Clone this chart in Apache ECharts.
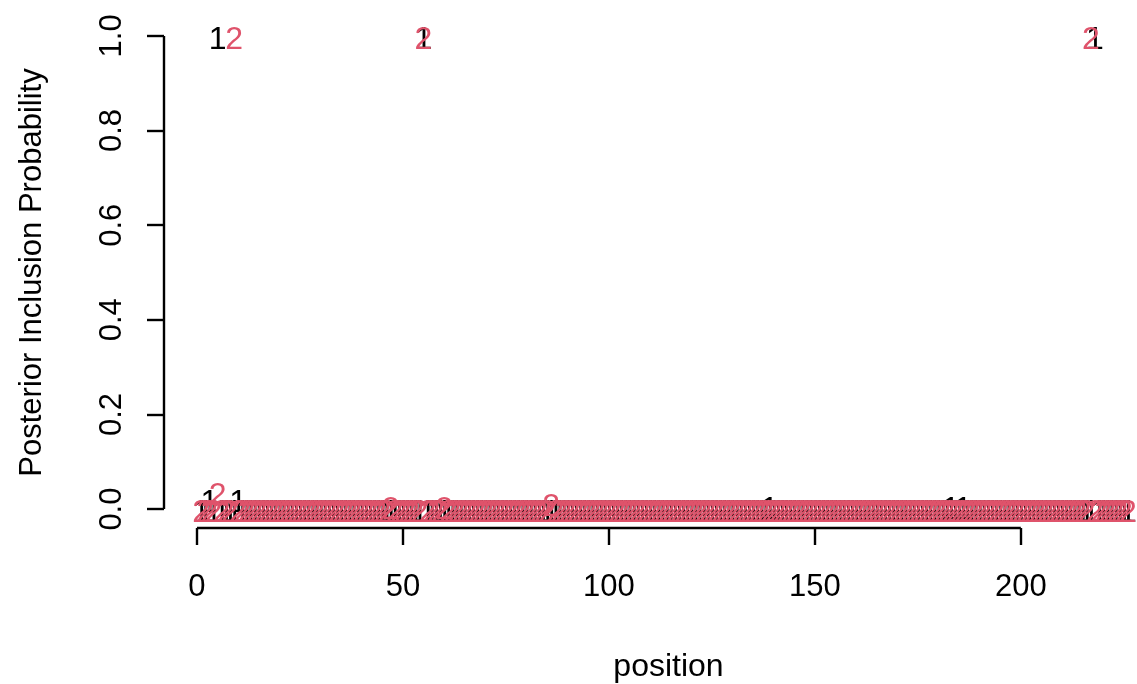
<!DOCTYPE html>
<html>
<head>
<meta charset="utf-8">
<title>Posterior Inclusion Probability</title>
<script src="https://cdn.jsdelivr.net/npm/echarts@6/dist/echarts.min.js"></script>
<style>
  html, body { margin: 0; padding: 0; background: #ffffff; }
  #chart { width: 1137px; height: 684px; }
</style>
</head>
<body>
<div id="chart"></div>
<script>
// Posterior inclusion probability per position, positions 1..226.
// Series "1" (black) and series "2" (red) are drawn as their own digit.
const pip1 = [
  0, 0, 0.02, 0, 1, 0, 0, 0, 0, 0.02,
  0, 0, 0, 0, 0, 0, 0, 0, 0, 0,
  0, 0, 0, 0, 0, 0, 0, 0, 0, 0,
  0, 0, 0, 0, 0, 0, 0, 0, 0, 0,
  0, 0, 0, 0, 0, 0, 0, 0, 0, 0,
  0, 0, 0, 0, 1, 0, 0, 0, 0, 0,
  0, 0, 0, 0, 0, 0, 0, 0, 0, 0,
  0, 0, 0, 0, 0, 0, 0, 0, 0, 0,
  0, 0, 0, 0, 0, 0, 0, 0, 0, 0,
  0, 0, 0, 0, 0, 0, 0, 0, 0, 0,
  0, 0, 0, 0, 0, 0, 0, 0, 0, 0,
  0, 0, 0, 0, 0, 0, 0, 0, 0, 0,
  0, 0, 0, 0, 0, 0, 0, 0, 0, 0,
  0, 0, 0, 0, 0, 0, 0, 0, 0.006, 0,
  0, 0, 0, 0, 0, 0, 0, 0, 0, 0,
  0, 0, 0, 0, 0, 0, 0, 0, 0, 0,
  0, 0, 0, 0, 0, 0, 0, 0, 0, 0,
  0, 0, 0, 0, 0, 0, 0, 0, 0, 0,
  0, 0, 0.006, 0, 0, 0.006, 0, 0, 0, 0,
  0, 0, 0, 0, 0, 0, 0, 0, 0, 0,
  0, 0, 0, 0, 0, 0, 0, 0, 0, 0,
  0, 0, 0, 0, 0, 0, 0, 1, 0, 0,
  0, 0, 0, 0, 0, 0
];

const pip2 = [
  0, 0, 0, 0, 0.035, 0, 0, 0, 1, 0,
  0, 0, 0, 0, 0, 0, 0, 0, 0, 0,
  0, 0, 0, 0, 0, 0, 0, 0, 0, 0,
  0, 0, 0, 0, 0, 0, 0, 0, 0, 0,
  0, 0, 0, 0, 0, 0, 0.007, 0, 0, 0,
  0, 0, 0, 0, 1, 0, 0, 0, 0, 0.007,
  0, 0, 0, 0, 0, 0, 0, 0, 0, 0,
  0, 0, 0, 0, 0, 0, 0, 0, 0, 0,
  0, 0, 0, 0, 0, 0.013, 0, 0, 0, 0,
  0, 0, 0, 0, 0, 0, 0, 0, 0, 0,
  0, 0, 0, 0, 0, 0, 0, 0, 0, 0,
  0, 0, 0, 0, 0, 0, 0, 0, 0, 0,
  0, 0, 0, 0, 0, 0, 0, 0, 0, 0,
  0, 0, 0, 0, 0, 0, 0, 0, 0, 0,
  0, 0, 0, 0, 0, 0, 0, 0, 0, 0,
  0, 0, 0, 0, 0, 0, 0, 0, 0, 0,
  0, 0, 0, 0, 0, 0, 0, 0, 0, 0,
  0, 0, 0, 0, 0, 0, 0, 0, 0, 0,
  0, 0, 0, 0, 0, 0, 0, 0, 0, 0,
  0, 0, 0, 0, 0, 0, 0, 0, 0, 0,
  0, 0, 0, 0, 0, 0, 0, 0, 0, 0,
  0, 0, 0, 0, 0, 0, 1, 0, 0, 0,
  0, 0, 0, 0, 0, 0
];

const seriesLabels = ['1', '2'];
const seriesColors = ['#000000', '#DF536B'];

const xTicks = [0, 50, 100, 150, 200];
const yTicks = [0, 0.2, 0.4, 0.6, 0.8, 1.0];

// Plot limits extend the data range by 4% on each side.
const xLimits = [-8, 235];
const yLimits = [-0.04, 1.04];

const FONT_FAMILY = '"Liberation Sans", Arial, Helvetica, sans-serif';
const FONT_SIZE = 31;

function toPoints(values) {
  return values.map((v, i) => [i + 1, v]);
}

function digitSeries(name, values, label, color) {
  return {
    name: name,
    type: 'custom',
    clip: false,
    silent: true,
    data: toPoints(values),
    renderItem: function (params, api) {
      const pt = api.coord([api.value(0), api.value(1)]);
      return {
        type: 'text',
        x: pt[0],
        y: pt[1] + 4,
        style: {
          text: label,
          fill: color,
          font: '32px ' + FONT_FAMILY,
          align: 'center',
          verticalAlign: 'middle'
        }
      };
    }
  };
}

// Axis lines span only the tick range, drawn as plain segments.
function axisSegment(points) {
  return {
    type: 'line',
    silent: true,
    clip: false,
    symbol: 'none',
    data: points,
    lineStyle: { color: '#000000', width: 2.4 },
    z: 1
  };
}

const chart = echarts.init(document.getElementById('chart'), null, { renderer: 'canvas' });

chart.setOption({
  animation: false,
  backgroundColor: '#ffffff',
  textStyle: { fontFamily: FONT_FAMILY },
  grid: {
    left: 164,
    right: -28,
    top: 17,
    bottom: 156,
    containLabel: false,
    outerBoundsMode: 'none'
  },
  xAxis: {
    type: 'value',
    min: xLimits[0],
    max: xLimits[1],
    name: 'position',
    nameLocation: 'middle',
    nameGap: 123,
    nameTextStyle: { fontSize: 32, color: '#000000', fontFamily: FONT_FAMILY, padding: [0, 0, 0, 8] },
    axisLine: { show: false, onZero: false },
    splitLine: { show: false },
    axisTick: {
      show: true,
      length: 17,
      customValues: xTicks,
      lineStyle: { color: '#000000', width: 2.4 }
    },
    axisLabel: {
      customValues: xTicks,
      margin: 44,
      fontSize: FONT_SIZE,
      color: '#000000',
      fontFamily: FONT_FAMILY
    }
  },
  yAxis: {
    type: 'value',
    min: yLimits[0],
    max: yLimits[1],
    name: 'Posterior Inclusion Probability',
    nameLocation: 'middle',
    nameRotate: 90,
    nameGap: 116,
    nameTextStyle: { fontSize: FONT_SIZE, color: '#000000', fontFamily: FONT_FAMILY },
    axisLine: { show: false, onZero: false },
    splitLine: { show: false },
    axisTick: {
      show: true,
      length: 17,
      customValues: yTicks,
      lineStyle: { color: '#000000', width: 2.4 }
    },
    axisLabel: {
      customValues: yTicks,
      rotate: 90,
      margin: 36,
      fontSize: FONT_SIZE,
      color: '#000000',
      fontFamily: FONT_FAMILY,
      formatter: function (v) { return v.toFixed(1); }
    }
  },
  series: [
    axisSegment([[xTicks[0], yLimits[0]], [xTicks[xTicks.length - 1], yLimits[0]]]),
    axisSegment([[xLimits[0], yTicks[0]], [xLimits[0], yTicks[yTicks.length - 1]]]),
    digitSeries('pip1', pip1, seriesLabels[0], seriesColors[0]),
    digitSeries('pip2', pip2, seriesLabels[1], seriesColors[1])
  ]
});
</script>
</body>
</html>
